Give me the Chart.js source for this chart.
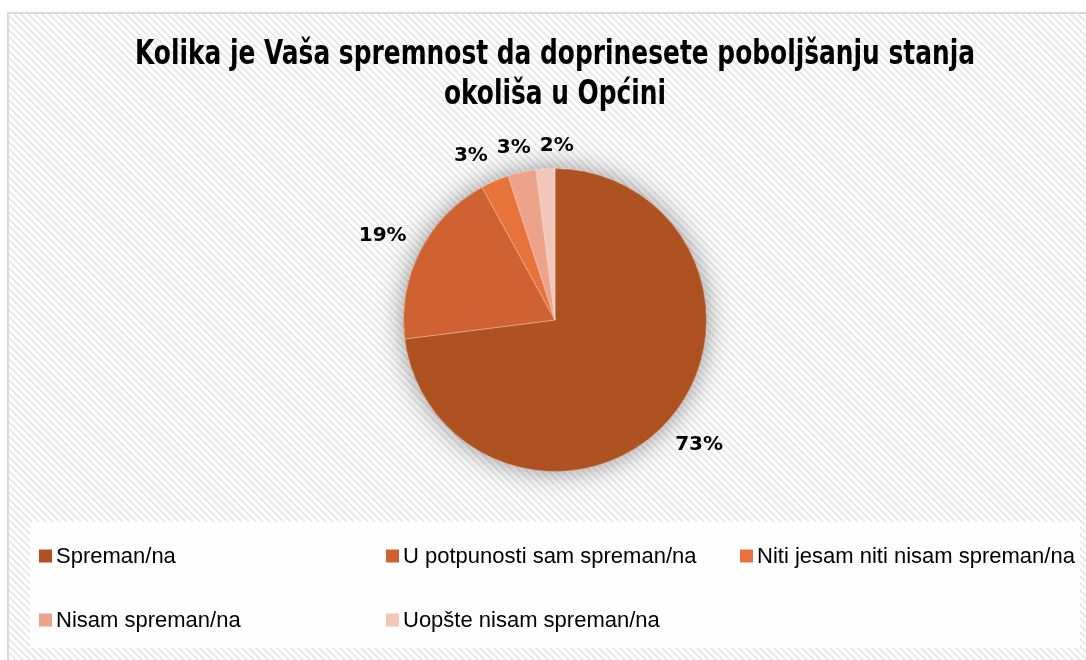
<!DOCTYPE html>
<html>
<head>
<meta charset="utf-8">
<script src="https://cdn.jsdelivr.net/npm/chart.js@4"></script>
<style>
  html, body { margin: 0; padding: 0; background: #ffffff; }
  #wrap { width: 1086px; height: 660px; position: relative; }
</style>
</head>
<body>
<div id="wrap"><canvas id="c" width="1086" height="660"></canvas></div>
<script>
const titleLines = ['Kolika je Vaša spremnost da doprinesete poboljšanju stanja', 'okoliša u Općini'];
const categories = ['Spreman/na', 'U potpunosti sam spreman/na', 'Niti jesam niti nisam spreman/na', 'Nisam spreman/na', 'Uopšte nisam spreman/na'];
const values = [73, 19, 3, 3, 2];
const valueLabels = ['73%', '19%', '3%', '3%', '2%'];
const colors = ['#AE5222', '#CF6230', '#E8733A', '#EDA28A', '#F3C6BA'];

// background: frame, hatch, legend panel
const backgroundPlugin = {
  id: 'bg',
  beforeDraw(chart) {
    const ctx = chart.ctx;
    const W = chart.width, H = chart.height;
    ctx.save();
    ctx.fillStyle = '#ffffff';
    ctx.fillRect(0, 0, W, H);
    const p = document.createElement('canvas');
    p.width = 7; p.height = 7;
    const pc = p.getContext('2d');
    pc.fillStyle = '#ffffff';
    pc.fillRect(0, 0, 7, 7);
    pc.strokeStyle = '#e9e9e9';
    pc.lineWidth = 2;
    pc.beginPath();
    pc.moveTo(-1, -1); pc.lineTo(8, 8);
    pc.moveTo(-8, -1); pc.lineTo(1, 8);
    pc.moveTo(6, -1); pc.lineTo(15, 8);
    pc.stroke();
    ctx.fillStyle = ctx.createPattern(p, 'repeat');
    ctx.fillRect(8, 13, W - 8, H - 13);
    ctx.strokeStyle = '#d9d9d9';
    ctx.lineWidth = 2;
    ctx.beginPath();
    ctx.moveTo(8, H + 2);
    ctx.lineTo(8, 13);
    ctx.lineTo(W + 2, 13);
    ctx.stroke();
    ctx.fillStyle = 'rgba(255,255,255,0.85)';
    ctx.fillRect(30, 522, 1050, 126);
    ctx.restore();
  }
};

// title drawn condensed to match the reference's narrow bold face
const titlePlugin = {
  id: 'condTitle',
  afterDraw(chart) {
    const ctx = chart.ctx;
    ctx.save();
    ctx.font = "bold 33px 'DejaVu Sans Condensed', 'DejaVu Sans', sans-serif";
    ctx.fillStyle = '#000000';
    ctx.textAlign = 'center';
    ctx.textBaseline = 'alphabetic';
    const w0 = ctx.measureText(titleLines[0]).width;
    const sx = 840 / w0;
    const cx = 555;
    const baselines = [64, 104];
    titleLines.forEach((line, i) => {
      ctx.save();
      ctx.translate(cx, baselines[i]);
      ctx.scale(sx, 1);
      ctx.fillText(line, 0, 0);
      ctx.restore();
    });
    ctx.restore();
  }
};

// soft shadow beneath the pie
const shadowPlugin = {
  id: 'pieShadow',
  beforeDatasetsDraw(chart) {
    const arc = chart.getDatasetMeta(0).data[0];
    if (!arc) return;
    const ctx = chart.ctx;
    ctx.save();
    ctx.shadowColor = 'rgba(0,0,0,0.42)';
    ctx.shadowBlur = 28;
    ctx.fillStyle = colors[0];
    ctx.beginPath();
    ctx.arc(arc.x, arc.y, arc.outerRadius, 0, Math.PI * 2);
    ctx.fill();
    ctx.restore();
  }
};

// data labels outside the end of each slice, spread apart if they collide
const labelPlugin = {
  id: 'outLabels',
  afterDatasetsDraw(chart) {
    const ctx = chart.ctx;
    const meta = chart.getDatasetMeta(0);
    ctx.save();
    ctx.font = "bold 20px 'DejaVu Sans', sans-serif";
    ctx.fillStyle = '#000000';
    ctx.textAlign = 'center';
    ctx.textBaseline = 'middle';
    const hh = 10;
    const pos = meta.data.map((arc, i) => {
      const mid = (arc.startAngle + arc.endAngle) / 2;
      const txt = valueLabels[i];
      const hw = ctx.measureText(txt).width / 2;
      const c = Math.cos(mid), s = Math.sin(mid);
      const d = arc.outerRadius + 16 + Math.abs(c) * hw + Math.abs(s) * hh;
      return { txt, hw, x: arc.x + c * d, y: arc.y + s * d + (s < 0 ? 4 : -2) };
    });
    const gap = 9;
    for (let iter = 0; iter < 30; iter++) {
      let moved = false;
      for (let i = 0; i < pos.length - 1; i++) {
        const a = pos[i], b = pos[i + 1];
        if (Math.abs(a.y - b.y) < 2 * hh + 4) {
          const need = a.hw + b.hw + gap;
          const dx = b.x - a.x;
          if (dx < need) {
            const push = (need - dx) / 2;
            a.x -= push; b.x += push;
            moved = true;
          }
        }
      }
      if (!moved) break;
    }
    pos.forEach(p => ctx.fillText(p.txt, p.x, p.y));
    ctx.restore();
  }
};

// legend laid out in columns like the reference
const legendPlugin = {
  id: 'colLegend',
  afterDraw(chart) {
    const ctx = chart.ctx;
    const cols = [39, 386, 740];
    const rows = [556, 620];
    ctx.save();
    ctx.font = "22px 'Liberation Sans', sans-serif";
    ctx.textBaseline = 'middle';
    ctx.textAlign = 'left';
    categories.forEach((name, i) => {
      const x = cols[i % 3];
      const y = rows[Math.floor(i / 3)];
      ctx.fillStyle = colors[i];
      ctx.fillRect(x, y - 6.5, 13, 13);
      ctx.fillStyle = '#000000';
      ctx.fillText(name, x + 17, y + 1);
    });
    ctx.restore();
  }
};

new Chart(document.getElementById('c'), {
  type: 'pie',
  data: {
    labels: categories,
    datasets: [{
      data: values,
      backgroundColor: colors,
      borderColor: 'rgba(255,255,255,0.35)',
      borderWidth: 1
    }]
  },
  options: {
    responsive: false,
    animation: false,
    layout: { padding: { top: 168, left: 24, right: 0, bottom: 188 } },
    plugins: {
      legend: { display: false },
      tooltip: { enabled: false },
      title: { display: false }
    }
  },
  plugins: [backgroundPlugin, shadowPlugin, labelPlugin, titlePlugin, legendPlugin]
});
</script>
</body>
</html>
